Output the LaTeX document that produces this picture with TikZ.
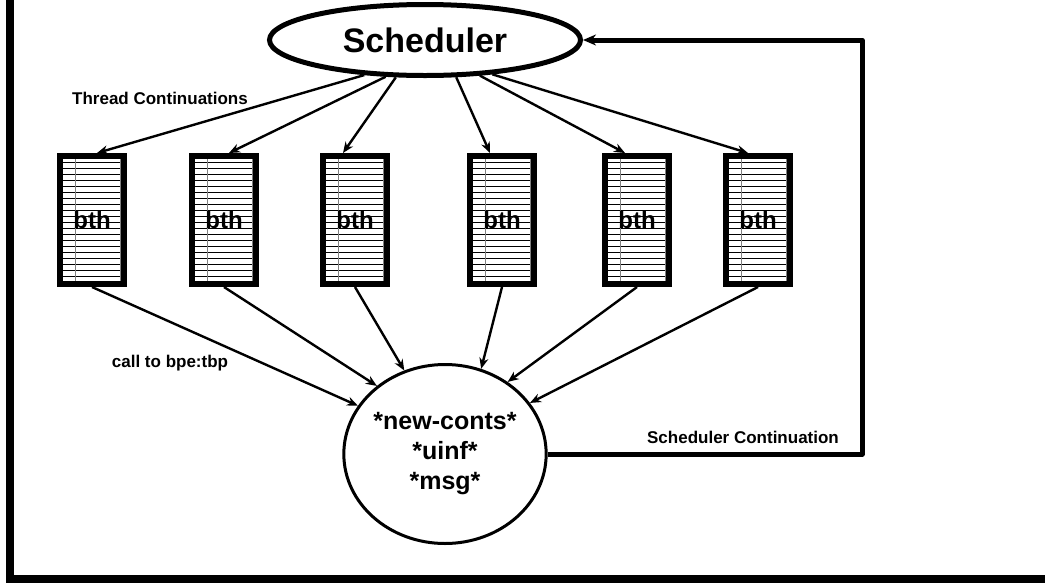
\documentclass[tikz,border=0pt]{standalone}
\usepackage{fontspec}
\setmainfont{Liberation Sans}
\usetikzlibrary{shapes.geometric,arrows.meta}

\begin{document}
\begin{tikzpicture}[x=1pt, y=-1pt,
	bthbox/.style={draw, line width=6pt, minimum width=64pt, minimum height=128pt, inner sep=0pt,
		font=\fontsize{24}{24}\selectfont\bfseries,
		path picture={
			\foreach \k in {1,...,20}
				\draw[line width=1pt] ([yshift=-\k*6pt]path picture bounding box.north west) -- ++(64pt,0);
			\draw[gray, line width=0.6pt] ([xshift=15pt]path picture bounding box.north west) -- ++(0,-128pt);
			\draw[gray, line width=0.6pt] ([xshift=60pt]path picture bounding box.north west) -- ++(0,-128pt);
		}},
	conn/.style={line width=2.4pt, -{Stealth[length=11pt, width=9pt]}},
	lbl/.style={font=\fontsize{17}{17}\selectfont\bfseries}]
	\useasboundingbox (0, 0) rectangle (1045, 582);
	\draw[line width=8pt] (10, -10) -- (10, 578.5) -- (1060, 578.5);

	\node[ellipse, draw, line width=5pt, minimum width=311pt, minimum height=71pt, inner sep=0pt,
		font=\fontsize{34}{34}\selectfont\bfseries] (sched) at (425, 40) {Scheduler};
	\node[ellipse, draw, line width=3pt, minimum width=202pt, minimum height=179pt, inner sep=0pt,
		align=center, font=\fontsize{25}{30}\selectfont\bfseries] (ctr) at (445, 454)
		{*new-conts*\\*uinf*\\*msg*};

	\foreach \i/\x in {1/92, 2/224, 3/355, 4/502, 5/637, 6/758}
		\node[bthbox] (bth\i) at (\x, 220) {bth};

	% thread continuations
	\foreach \i/\a/\dx in {1/210/5, 2/223/5, 3/232/-12, 4/310/-12, 5/327/-12, 6/333/-10}
		\draw[conn] (sched.\a) -- ([xshift=\dx pt]bth\i.north);
	% calls
	\foreach \i/\a in {1/151, 2/135, 3/116, 4/67, 5/49, 6/31}
		\draw[conn] (bth\i.south) -- (ctr.\a);

	\coordinate (cb) at (862, 454);
	\coordinate (ct) at (862, 40);
	\draw[line width=5pt, line join=round, -{Stealth[length=13pt, width=11pt]}]
		(ctr.east) -- (cb) -- (ct) -- (sched.east);

	\node[lbl] (tc) at (160, 98) {Thread Continuations};
	\node[lbl] (cl) at (170, 363) {call to bpe:tbp};
	\node[lbl] (sc) at (743, 437) {Scheduler Continuation};
\end{tikzpicture}
\end{document}
